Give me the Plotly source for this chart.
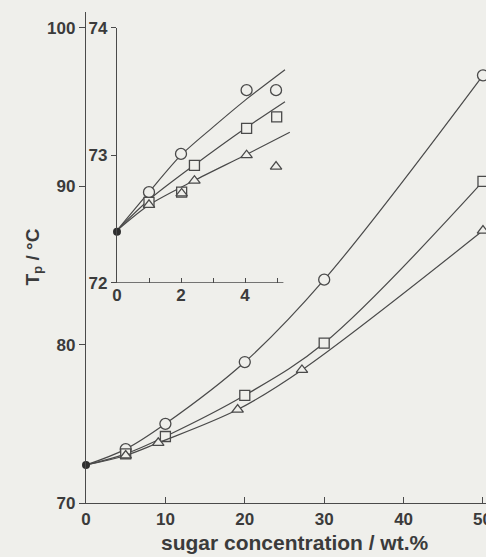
import plotly.graph_objects as go

# ---- main panel: peak temperature vs sugar concentration ----
start_x = [0]
start_y = [72.4]

circle_x = [0, 5, 10, 20, 30, 50]
circle_y = [72.4, 73.4, 75.0, 78.9, 84.1, 97.0]

square_x = [0, 5, 10, 20, 30, 50]
square_y = [72.4, 73.1, 74.2, 76.8, 80.1, 90.3]

triangle_x = [0, 5, 9.1, 19.1, 27.2, 50]
triangle_y = [72.4, 73.0, 73.8, 75.9, 78.4, 87.2]

main_xticks = [0, 10, 20, 30, 40, 50]
main_yticks = [70, 80, 90, 100]
edge_label_x = 50  # last tick label sits on the right border of the figure

# ---- inset: low-concentration region ----
in_circle_x = [1, 2, 4.05, 4.97]
in_circle_y = [72.71, 73.01, 73.51, 73.51]
in_square_x = [1, 2.02, 2.42, 4.05, 4.99]
in_square_y = [72.63, 72.71, 72.92, 73.21, 73.30]
in_triangle_x = [1, 2.02, 2.42, 4.05, 4.97]
in_triangle_y = [72.61, 72.70, 72.80, 73.00, 72.91]

fit_circle_x = [0, 1, 2, 3, 4, 5.25]
fit_circle_y = [72.41, 72.71, 73.0, 73.22, 73.43, 73.67]
fit_square_x = [0, 1, 2.4, 4, 5.25]
fit_square_y = [72.41, 72.65, 72.92, 73.21, 73.42]
fit_triangle_x = [0, 1, 2.4, 4, 5.4]
fit_triangle_y = [72.41, 72.61, 72.80, 73.0, 73.18]

inset_xticks = [0, 2, 4]
inset_xminor = [1, 3, 5]
inset_yticks = [72, 73, 74]

BG = "#efefeb"
INK = "#3b3b3b"
LINE = "#4a4a4a"
FONT = "Liberation Sans, Arial, sans-serif"

fig = go.Figure()

def marker(symbol, size):
    return dict(symbol=symbol, size=size, color=BG, line=dict(color=LINE, width=1.3))

for xs, ys, sym, sz in [(circle_x, circle_y, "circle", 11),
                        (square_x, square_y, "square", 10),
                        (triangle_x, triangle_y, "triangle-up", 10)]:
    fig.add_trace(go.Scatter(x=xs, y=ys, mode="lines", line=dict(color=LINE, width=1.2, shape="spline", smoothing=1.0),
                             hoverinfo="skip", showlegend=False, xaxis="x", yaxis="y"))
    fig.add_trace(go.Scatter(x=xs[1:], y=ys[1:], mode="markers", marker=marker(sym, sz),
                             cliponaxis=False, showlegend=False, xaxis="x", yaxis="y"))
fig.add_trace(go.Scatter(x=start_x, y=start_y, mode="markers",
                         marker=dict(symbol="circle", size=8, color="#2e2e2e"),
                         cliponaxis=False, showlegend=False, xaxis="x", yaxis="y"))

for xs, ys in [(fit_circle_x, fit_circle_y), (fit_square_x, fit_square_y), (fit_triangle_x, fit_triangle_y)]:
    fig.add_trace(go.Scatter(x=xs, y=ys, mode="lines", line=dict(color=LINE, width=1.2, shape="spline", smoothing=0.8),
                             hoverinfo="skip", showlegend=False, xaxis="x2", yaxis="y2"))
for xs, ys, sym, sz in [(in_circle_x, in_circle_y, "circle", 11),
                        (in_square_x, in_square_y, "square", 10),
                        (in_triangle_x, in_triangle_y, "triangle-up", 10)]:
    fig.add_trace(go.Scatter(x=xs, y=ys, mode="markers", marker=marker(sym, sz),
                             cliponaxis=False, showlegend=False, xaxis="x2", yaxis="y2"))
fig.add_trace(go.Scatter(x=start_x, y=start_y, mode="markers",
                         marker=dict(symbol="circle", size=8, color="#2e2e2e"),
                         cliponaxis=False, showlegend=False, xaxis="x2", yaxis="y2"))

tickfont = dict(family=FONT, size=17, color=INK, weight="bold")
axis_common = dict(showgrid=False, zeroline=False, showline=True, linecolor=LINE, linewidth=1.3,
                   tickcolor=LINE, tickwidth=1.2, tickfont=tickfont)

fig.update_layout(
    width=486, height=557,
    margin=dict(l=86, r=0, t=12, b=54),
    paper_bgcolor=BG, plot_bgcolor=BG,
    xaxis=dict(range=[0, 50.38], tickvals=main_xticks, ticks="inside", ticklen=6, **axis_common),
    yaxis=dict(range=[70, 101.0], tickvals=main_yticks, ticks="outside", ticklen=6, **axis_common),
    xaxis2=dict(domain=[0.0775, 0.5135], range=[0, 5.45], anchor="y2",
                tickvals=inset_xticks, ticks="inside", ticklen=5,
                minor=dict(tickvals=inset_xminor, ticks="inside", ticklen=5, tickcolor=LINE,
                           tickwidth=1.2, showgrid=False),
                showgrid=False, zeroline=False, showline=False, tickcolor=LINE, tickwidth=1.2, tickfont=tickfont),
    yaxis2=dict(domain=[0.4487, 0.968], range=[72, 74], anchor="x2",
                tickvals=inset_yticks, ticks="outside", ticklen=5, **axis_common),
    shapes=[dict(type="line", xref="x2", yref="y2", x0=0, x1=5.2, y0=72, y1=72,
                 line=dict(color=LINE, width=1.3))],
    annotations=[
        dict(text=str(edge_label_x), xref="x", yref="paper", x=edge_label_x, y=0,
             xanchor="center", yanchor="top", yshift=-5, showarrow=False, font=tickfont),
        dict(text="sugar concentration / wt.%", xref="paper", yref="paper", x=0.5225, y=0,
             xanchor="center", yanchor="middle", yshift=-39, showarrow=False,
             font=dict(family=FONT, size=21, color=INK, weight="bold")),
        dict(text="T<sub>p</sub> / °C", xref="paper", yref="paper", x=0, y=0.5,
             xanchor="center", yanchor="middle", xshift=-53, textangle=-90, showarrow=False,
             font=dict(family=FONT, size=19, color=INK, weight="bold")),
    ],
)

fig.write_html("out.html")
